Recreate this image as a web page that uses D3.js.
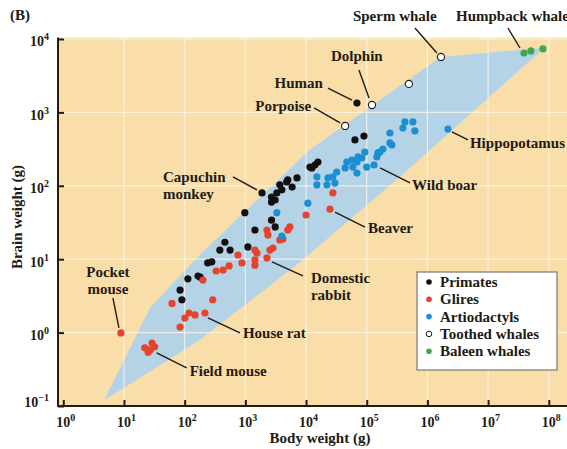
<!DOCTYPE html>
<html>
<head>
<meta charset="utf-8">
<script src="https://cdn.jsdelivr.net/npm/d3@7"></script>
<style>
  body { margin: 0; background: #fff; }
  svg { display: block; }
  text { font-family: "Liberation Serif", "Times New Roman", serif; font-weight: bold; fill: #231a14; }
</style>
</head>
<body>
<svg id="chart" width="567" height="449"></svg>
<script>
// Body weight (g), brain weight (g) for each group
const primates = [
  [69000, 1340], [64000, 421], [90000, 476], [15700, 211], [14000, 192], [12500, 175],
  [11600, 180], [3700, 103], [5000, 120], [5900, 96], [7100, 128], [4800, 113],
  [4000, 88], [3300, 80], [2700, 70], [2700, 60], [3100, 64], [1880, 80],
  [980, 43], [2700, 34], [3100, 27.5], [1440, 25], [460, 17], [380, 13.3],
  [560, 13.3], [1100, 14.7], [280, 9.2], [240, 8.9], [180, 5.7], [166, 5.9],
  [113, 5.4], [84, 3.8], [90, 2.8]
];
const glires = [
  [27700, 80], [24800, 48], [10000, 40], [5400, 27.5], [5000, 25], [2270, 25],
  [2360, 21.4], [3700, 18.3], [4160, 18.8], [2850, 14.2], [2540, 13.3], [1440, 13.3],
  [1550, 12.1], [755, 11.4], [880, 8.9], [1440, 9.8], [1440, 8.3], [2270, 10.4],
  [540, 8.1], [430, 7.1], [330, 6.9], [200, 5.2], [290, 2.8], [216, 1.85],
  [62, 2.5], [101, 1.58], [118, 1.85], [148, 1.74], [84, 1.19], [8.9, 0.99],
  [22, 0.62], [25, 0.54], [29, 0.72], [32, 0.64], [27, 0.58]
];
const artiodactyls = [
  [2.18e6, 594], [4.26e5, 740], [5.77e5, 740], [3.94e5, 612], [6.22e5, 558], [2.41e5, 524],
  [2.41e5, 383], [2.6e5, 360], [1.85e5, 317], [1.65e5, 288], [1.47e5, 247], [93000, 288],
  [83000, 239], [72000, 247], [69000, 211], [57000, 224], [59000, 180], [47000, 211],
  [44000, 175], [69000, 149], [100000, 180], [1.32e5, 192], [32000, 154], [27700, 132],
  [23000, 128], [15100, 132], [15100, 103], [22100, 103], [29900, 109], [10700, 58],
  [3300, 43], [4000, 20.7], [1.53e5, 280]
];
const toothedWhales = [[1.67e6, 5690], [4.95e5, 2440], [1.22e5, 1260], [44000, 653]];
const baleenWhales = [[3.9e7, 6440], [5.07e7, 6870], [8.0e7, 7310]];

// Outline of the shaded range covering all mammals
const mammalRange = [
  [4.7, 0.12], [27, 2.2], [178, 11.5], [11500, 309], [1.66e6, 5690], [8.5e7, 7600],
  [3.5e5, 132], [7900, 9.1], [178, 0.79]
];

const bodyTicks = [1, 10, 100, 1e3, 1e4, 1e5, 1e6, 1e7, 1e8];
const brainTicks = [0.1, 1, 10, 100, 1e3, 1e4];

const groups = [
  { name: "Primates", data: primates, fill: "#141010", stroke: "none" },
  { name: "Glires", data: glires, fill: "#e5432b", stroke: "none" },
  { name: "Artiodactyls", data: artiodactyls, fill: "#1c8fd3", stroke: "none" },
  { name: "Toothed whales", data: toothedWhales, fill: "#ffffff", stroke: "#231a14" },
  { name: "Baleen whales", data: baleenWhales, fill: "#3da84c", stroke: "none" }
];

// Named specimens: leader line and label offsets in pixels from the point
const callouts = [
  { lines: ["Sperm whale"], at: [1.67e6, 5690], leader: [-26, -29, -4, -4], text: [-88, -36], anchor: "start" },
  { lines: ["Humpback whale"], at: [3.9e7, 6440], leader: [-16, -25, -4, -5], text: [-68, -32], anchor: "start" },
  { lines: ["Dolphin"], at: [1.22e5, 1260], leader: [-13, -35, -3, -7], text: [-41, -44], anchor: "start" },
  { lines: ["Human"], at: [69000, 1340], leader: [-29, -15, -5, -3], text: [-34, -15], anchor: "end" },
  { lines: ["Porpoise"], at: [44000, 653], leader: [-31, -18, -5, -3], text: [-34, -15], anchor: "end" },
  { lines: ["Capuchin", "monkey"], at: [1880, 80], leader: [-29, -16, -5, -3], text: [-99, -11], anchor: "start" },
  { lines: ["Hippopotamus"], at: [2.18e6, 594], leader: [4, 3, 20, 11], text: [22, 19], anchor: "start" },
  { lines: ["Wild boar"], at: [1.32e5, 192], leader: [6, 3, 36, 18], text: [38, 25], anchor: "start" },
  { lines: ["Beaver"], at: [24800, 48], leader: [5, 3, 35, 18], text: [38, 24], anchor: "start" },
  { lines: ["Domestic", "rabbit"], at: [2270, 10.4], leader: [5, 4, 36, 18], text: [44, 25], anchor: "start" },
  { lines: ["House rat"], at: [216, 1.85], leader: [3, 5, 35, 20], text: [38, 25], anchor: "start" },
  { lines: ["Field mouse"], at: [32, 0.64], leader: [2, 6, 32, 21], text: [35, 29], anchor: "start" },
  { lines: ["Pocket", "mouse"], at: [8.9, 0.99], leader: [-8, -35, -2, -5], text: [-13, -56], anchor: "middle" }
];

const svg = d3.select("#chart");
const plotLeft = 58, plotRight = 567, plotTop = 37.5, plotBottom = 406;

const x = d3.scaleLog().domain([Math.pow(10, -0.087), Math.pow(10, 8.3)]).range([plotLeft, plotRight]);
const y = d3.scaleLog().domain([0.1, Math.pow(10, 4.02)]).range([plotBottom, plotTop]);

// Plot background
svg.append("rect")
  .attr("x", plotLeft).attr("y", plotTop)
  .attr("width", plotRight - plotLeft).attr("height", plotBottom - plotTop)
  .attr("fill", "#f9dea9");

// Shaded range
svg.append("path")
  .datum(mammalRange)
  .attr("d", d3.line().x(d => x(d[0])).y(d => y(d[1])).curve(d3.curveLinearClosed))
  .attr("fill", "#b4d3e7");

// Grid lines
const grid = svg.append("g").attr("stroke", "#fff8ea").attr("stroke-width", 1.2).attr("opacity", 0.75);
grid.selectAll(".gx").data(bodyTicks.slice(1)).join("line")
  .attr("x1", d => x(d)).attr("x2", d => x(d))
  .attr("y1", plotTop).attr("y2", plotBottom);
grid.selectAll(".gy").data(brainTicks.slice(1)).join("line")
  .attr("x1", plotLeft).attr("x2", plotRight)
  .attr("y1", d => y(d)).attr("y2", d => y(d));

// Axes
const supLabel = (sel, v) => {
  const e = Math.round(Math.log10(v));
  sel.text("");
  sel.append("tspan").text("10");
  sel.append("tspan").attr("dy", -6).attr("font-size", 10).text(e < 0 ? "\u2212" + (-e) : e);
};

const xAxis = svg.append("g").attr("transform", `translate(0,${plotBottom})`)
  .call(d3.axisTop(x).tickValues(bodyTicks).tickSize(6).tickFormat(""));
xAxis.select(".domain").remove();
xAxis.selectAll(".tick line").attr("stroke", "#231a14").attr("stroke-width", 2);
xAxis.selectAll(".tick").append("text")
  .attr("x", 2).attr("y", 21).attr("text-anchor", "middle").attr("font-size", 14)
  .each(function (d) { supLabel(d3.select(this), d); });

const yAxis = svg.append("g").attr("transform", `translate(${plotLeft},0)`)
  .call(d3.axisRight(y).tickValues(brainTicks).tickSize(6).tickFormat(""));
yAxis.select(".domain").remove();
yAxis.selectAll(".tick line").attr("stroke", "#231a14").attr("stroke-width", 2);
yAxis.selectAll(".tick").append("text")
  .attr("x", -9).attr("y", d => d === 0.1 ? 0 : 7)
  .attr("text-anchor", "end").attr("font-size", 14)
  .each(function (d) { supLabel(d3.select(this), d); });

svg.append("path")
  .attr("d", `M${plotLeft},${plotTop}V${plotBottom}H${plotRight}`)
  .attr("fill", "none").attr("stroke", "#231a14").attr("stroke-width", 2);

// Axis titles
svg.append("text").attr("x", 320).attr("y", 443).attr("text-anchor", "middle")
  .attr("font-size", 15).text("Body weight (g)");
svg.append("text").attr("transform", "translate(22,217) rotate(-90)").attr("text-anchor", "middle")
  .attr("font-size", 15).text("Brain weight (g)");
svg.append("text").attr("x", 10).attr("y", 20).attr("font-size", 15).text("(B)");

// Points
groups.forEach(g => {
  svg.append("g").selectAll("circle").data(g.data).join("circle")
    .attr("cx", d => x(d[0])).attr("cy", d => y(d[1])).attr("r", 3.6)
    .attr("fill", g.fill)
    .attr("stroke", g.stroke).attr("stroke-width", 1.1);
});

// Callouts
const co = svg.append("g");
callouts.forEach(c => {
  const px = x(c.at[0]), py = y(c.at[1]);
  co.append("line")
    .attr("x1", px + c.leader[0]).attr("y1", py + c.leader[1])
    .attr("x2", px + c.leader[2]).attr("y2", py + c.leader[3])
    .attr("stroke", "#231a14").attr("stroke-width", 1.4);
  const t = co.append("text").attr("font-size", 15).attr("text-anchor", c.anchor);
  c.lines.forEach((ln, i) => {
    t.append("tspan").attr("x", px + c.text[0]).attr("y", py + c.text[1] + i * 17).text(ln);
  });
});

// Legend
const lg = svg.append("g").attr("transform", "translate(417,272)");
lg.append("rect").attr("width", 140).attr("height", 98)
  .attr("fill", "#fff").attr("stroke", "#7d756c").attr("stroke-width", 1.2);
groups.forEach((g, i) => {
  const row = lg.append("g").attr("transform", `translate(0,${15 + i * 17.3})`);
  row.append("circle").attr("cx", 12).attr("cy", -5).attr("r", 2.8)
    .attr("fill", g.fill).attr("stroke", g.stroke).attr("stroke-width", 1);
  row.append("text").attr("x", 23).attr("font-size", 15).text(g.name);
});
</script>
</body>
</html>
